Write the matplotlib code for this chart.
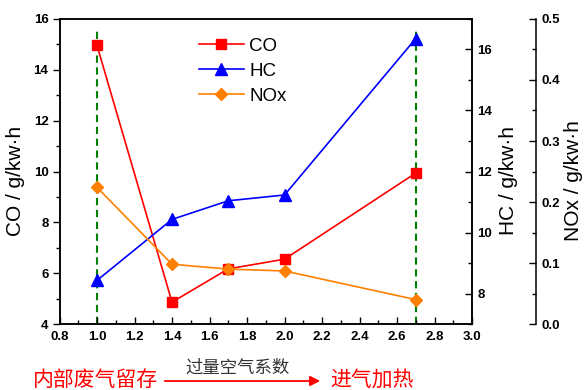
import matplotlib
matplotlib.use("Agg")
import matplotlib.pyplot as plt
from matplotlib.ticker import MultipleLocator, FuncFormatter

plt.rcParams['font.family'] = ['Liberation Sans', 'DejaVu Sans']
plt.rcParams['font.weight'] = 'bold'

# Data
excess_air = [1.0, 1.4, 1.7, 2.0, 2.7]
co_vals = [14.96, 4.86, 6.17, 6.55, 9.94]
hc_vals = [8.43, 10.43, 11.04, 11.23, 16.36]
nox_vals = [0.224, 0.098, 0.090, 0.087, 0.040]
marker_x = [1.0, 2.7]
x_ticks = [0.8, 1.0, 1.2, 1.4, 1.6, 1.8, 2.0, 2.2, 2.4, 2.6, 2.8, 3.0]

fig = plt.figure(figsize=(5.84, 3.90), dpi=100)
ax = fig.add_axes([0.1019, 0.1692, 0.7064, 0.7821])
ax2 = ax.twinx()
ax3 = ax.twinx()

# Green dashed verticals
for xv in marker_x:
    ax.plot([xv, xv], [4, 15.57], color='#008000', ls=(0, (3.5, 2.2)), lw=1.5, zorder=1)

l1, = ax.plot(excess_air, co_vals, color='#FF0000', marker='s', ms=6.8, lw=1.2, label='CO', zorder=3)
l2, = ax2.plot(excess_air, hc_vals, color='#0000FF', marker='^', ms=8.5, lw=1.2, label='HC', zorder=3)
l3, = ax3.plot(excess_air, nox_vals, color='#FF8000', marker='D', ms=6.3, lw=1.2, label='NOx', zorder=3)

ax.set_xlim(0.8, 3.0)
ax.set_ylim(4, 16)
ax2.set_ylim(7, 17)
ax3.set_ylim(0, 0.5)

ax.set_xticks(x_ticks)
ax.xaxis.set_major_formatter(FuncFormatter(lambda v, p: f"{v:.1f}"))
ax.xaxis.set_minor_locator(MultipleLocator(0.1))
ax.yaxis.set_major_locator(MultipleLocator(2))
ax.yaxis.set_minor_locator(MultipleLocator(1))
ax2.yaxis.set_major_locator(MultipleLocator(2))
ax2.yaxis.set_minor_locator(MultipleLocator(1))
ax3.yaxis.set_major_locator(MultipleLocator(0.1))
ax3.yaxis.set_minor_locator(MultipleLocator(0.05))
ax3.yaxis.set_major_formatter(FuncFormatter(lambda v, p: f"{v:.1f}"))

ax.tick_params(axis='x', which='both', direction='in', top=False, pad=5, labelsize=9.5)
ax.tick_params(axis='x', which='major', length=5, width=1)
ax.tick_params(axis='x', which='minor', length=3, width=1)
ax.tick_params(axis='y', which='major', direction='out', length=5, width=1, pad=3, labelsize=9.5)
ax.tick_params(axis='y', which='minor', direction='out', length=3, width=1)
for a in (ax2, ax3):
    a.tick_params(axis='y', which='major', direction='in', length=5, width=1, pad=4, labelsize=9.5)
    a.tick_params(axis='y', which='minor', direction='in', length=3, width=1)

ax3.spines['right'].set_position(('axes', 1.1545))
for a in (ax, ax2, ax3):
    for s in a.spines.values():
        s.set_linewidth(1.1)
ax3.spines['top'].set_visible(False)
ax3.spines['left'].set_visible(False)
ax3.spines['bottom'].set_visible(False)

lab_kw = dict(fontsize=15, fontweight='normal')
ax.set_ylabel('CO / g/kw·h', **lab_kw)
ax2.set_ylabel('HC / g/kw·h', **lab_kw)
ax3.set_ylabel('NOx / g/kw·h', **lab_kw)
ax.yaxis.set_label_coords(-0.083, 0.469)
ax2.yaxis.set_label_coords(1.066, 0.469)
ax3.yaxis.set_label_coords(1.224, 0.469)

ax.legend(handles=[l1, l2, l3], loc='upper left', bbox_to_anchor=(0.31, 0.975),
          frameon=False, prop={'size': 13.5, 'weight': 'normal'}, handlelength=2.4,
          labelspacing=0.42, handletextpad=0.3, borderaxespad=0.2)

cjk = ['Noto Sans CJK SC', 'DejaVu Sans']
fig.text(33 / 584, 1 - 380 / 390, '内部废气留存', color='#FF0000', fontsize=15, family=cjk,
         fontweight='normal', ha='left', va='center')
fig.text(330 / 584, 1 - 380 / 390, '进气加热', color='#FF0000', fontsize=15, family=cjk,
         fontweight='normal', ha='left', va='center')
fig.text(238 / 584, 1 - 368 / 390, '过量空气系数', color='#333333', fontsize=12.5, family=cjk,
         fontweight='normal', ha='center', va='center')
fig.patches.append(matplotlib.patches.FancyArrowPatch(
    (162 / 584, 1 - 381 / 390), (323 / 584, 1 - 381 / 390), transform=fig.transFigure,
    arrowstyle='-|>,head_length=6,head_width=3', color='#FF0000', lw=1.3))

fig.savefig('out.png', dpi=100)
